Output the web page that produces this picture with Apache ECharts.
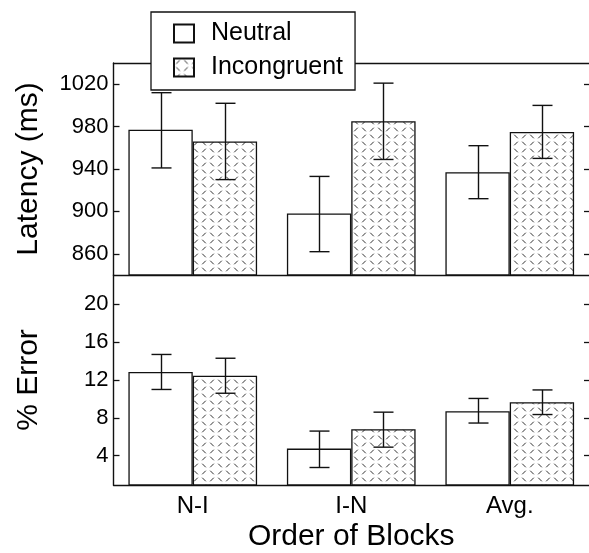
<!DOCTYPE html>
<html>
<head>
<meta charset="utf-8">
<script src="https://cdn.jsdelivr.net/npm/echarts@6/dist/echarts.min.js"></script>
<style>
html,body{margin:0;padding:0;background:#fff;}
#main{width:589px;height:553px;}
</style>
</head>
<body>
<div id="main"></div>
<script>
// ---- data ----
const categories = ['N-I', 'I-N', 'Avg.'];
const seriesNames = ['Neutral', 'Incongruent'];

const latencyNeutral = [977, 898, 937];
const latencyNeutralLow = [941, 862, 912];
const latencyNeutralHigh = [1012, 933, 962];
const latencyIncong = [966, 985, 975];
const latencyIncongLow = [930, 949, 950];
const latencyIncongHigh = [1002, 1021, 1000];

const errorNeutral = [12.85, 4.75, 8.7];
const errorNeutralLow = [11.0, 2.75, 7.45];
const errorNeutralHigh = [14.7, 6.6, 10.05];
const errorIncong = [12.45, 6.8, 9.65];
const errorIncongLow = [10.6, 4.9, 8.35];
const errorIncongHigh = [14.3, 8.6, 10.95];

const latencyTicks = [860, 900, 940, 980, 1020];
const errorTicks = [4, 8, 12, 16, 20];

// ---- pattern for incongruent bars ----
function makePattern() {
  const c = document.createElement('canvas');
  c.width = 16; c.height = 14;
  const g = c.getContext('2d');
  g.fillStyle = '#fff';
  g.fillRect(0, 0, 16, 14);
  g.strokeStyle = '#333';
  g.lineWidth = 1;
  function slash(x, y) { g.beginPath(); g.moveTo(x - 1.8, y + 1.8); g.lineTo(x + 1.8, y - 1.8); g.stroke(); }
  function back(x, y) { g.beginPath(); g.moveTo(x - 1.8, y - 1.8); g.lineTo(x + 1.8, y + 1.8); g.stroke(); }
  slash(4, 3.5); back(12, 3.5);
  back(4, 10.5); slash(12, 10.5);
  return { image: c, repeat: 'repeat' };
}
const pattern = makePattern();

const FONT = 'Liberation Sans, Arial, Helvetica, sans-serif';
const AX = '#111';
const barW = '40.6%';
const offRatio = 0.203;
const lineSt = { color: AX, width: 1.4 };

function errBar(sign, xAxisIndex, yAxisIndex, lows, highs) {
  return {
    type: 'custom',
    xAxisIndex: xAxisIndex,
    yAxisIndex: yAxisIndex,
    z: 5,
    silent: true,
    data: lows.map((l, i) => [i, l, highs[i]]),
    renderItem: function (params, api) {
      const i = api.value(0);
      const pLo = api.coord([i, api.value(1)]);
      const pHi = api.coord([i, api.value(2)]);
      const band = api.size([1, 0])[0];
      const x = Math.round(pLo[0] + sign * band * offRatio) + 0.5;
      const hw = 10;
      const st = { stroke: AX, lineWidth: 1.4 };
      return {
        type: 'group',
        children: [
          { type: 'line', shape: { x1: x, y1: pLo[1], x2: x, y2: pHi[1] }, style: st },
          { type: 'line', shape: { x1: x - hw, y1: pLo[1], x2: x + hw, y2: pLo[1] }, style: st },
          { type: 'line', shape: { x1: x - hw, y1: pHi[1], x2: x + hw, y2: pHi[1] }, style: st }
        ]
      };
    }
  };
}

function yAxisDef(gridIndex, min, max, ticks, name, right) {
  return {
    type: 'value',
    gridIndex: gridIndex,
    position: right ? 'right' : 'left',
    min: min, max: max,
    name: right ? '' : name,
    nameLocation: 'middle',
    nameGap: 70,
    nameTextStyle: { fontFamily: FONT, fontSize: 30, color: '#000' },
    axisLine: { show: !right, lineStyle: lineSt },
    axisTick: { show: true, inside: true, length: right ? 5 : 6, customValues: ticks, lineStyle: { color: AX, width: 1.3 } },
    axisLabel: { show: !right, customValues: ticks, margin: 5, fontFamily: FONT, fontSize: 22, color: '#000', formatter: v => String(v) },
    splitLine: { show: false }
  };
}

const chart = echarts.init(document.getElementById('main'), null, { renderer: 'canvas' });
const gridCommon = { left: 113.5, right: -2, show: false, containLabel: false };

const barStyleN = { color: '#fff', borderColor: AX, borderWidth: 1.3 };
const barStyleI = { color: pattern, borderColor: AX, borderWidth: 1.3 };

chart.setOption({
  animation: false,
  backgroundColor: '#fff',
  legend: {
    orient: 'vertical',
    left: 151,
    top: 12,
    z: 10,
    data: seriesNames,
    icon: 'rect',
    itemWidth: 20,
    itemHeight: 18,
    itemGap: 9,
    padding: [9, 12, 10, 22],
    backgroundColor: '#fff',
    borderColor: AX,
    borderWidth: 1.3,
    selectedMode: false,
    textStyle: { fontFamily: FONT, fontSize: 25, color: '#000', padding: [0, 0, 0, 12] }
  },
  grid: [
    Object.assign({ top: 63, height: 212 }, gridCommon),
    Object.assign({ top: 275, height: 212 }, gridCommon)
  ],
  xAxis: [
    { type: 'category', gridIndex: 0, position: 'bottom', data: categories, axisLine: { show: true, lineStyle: lineSt }, axisTick: { show: false }, axisLabel: { show: false } },
    { type: 'category', gridIndex: 0, position: 'top', data: categories, axisLine: { show: true, lineStyle: lineSt }, axisTick: { show: false }, axisLabel: { show: false } },
    {
      type: 'category', gridIndex: 1, position: 'bottom', data: categories,
      name: 'Order of Blocks', nameLocation: 'middle', nameGap: 37,
      nameTextStyle: { fontFamily: FONT, fontSize: 30, color: '#000' },
      axisLine: { show: true, lineStyle: lineSt }, axisTick: { show: false },
      axisLabel: { margin: 9, fontFamily: FONT, fontSize: 24, color: '#000' }
    }
  ],
  yAxis: [
    yAxisDef(0, 840, 1040, latencyTicks, 'Latency (ms)', false),
    yAxisDef(0, 840, 1040, latencyTicks, '', true),
    yAxisDef(1, 0.9, 23.1, errorTicks, '% Error', false),
    yAxisDef(1, 0.9, 23.1, errorTicks, '', true)
  ],
  series: [
    { name: 'Neutral', type: 'bar', xAxisIndex: 0, yAxisIndex: 0, data: latencyNeutral, barWidth: barW, barGap: '0%', itemStyle: barStyleN },
    { name: 'Incongruent', type: 'bar', xAxisIndex: 0, yAxisIndex: 0, data: latencyIncong, barWidth: barW, barGap: '0%', itemStyle: barStyleI },
    { name: 'Neutral', type: 'bar', xAxisIndex: 2, yAxisIndex: 2, data: errorNeutral, barWidth: barW, barGap: '0%', itemStyle: barStyleN },
    { name: 'Incongruent', type: 'bar', xAxisIndex: 2, yAxisIndex: 2, data: errorIncong, barWidth: barW, barGap: '0%', itemStyle: barStyleI },
    errBar(-1, 0, 0, latencyNeutralLow, latencyNeutralHigh),
    errBar(1, 0, 0, latencyIncongLow, latencyIncongHigh),
    errBar(-1, 2, 2, errorNeutralLow, errorNeutralHigh),
    errBar(1, 2, 2, errorIncongLow, errorIncongHigh)
  ]
});
</script>
</body>
</html>
